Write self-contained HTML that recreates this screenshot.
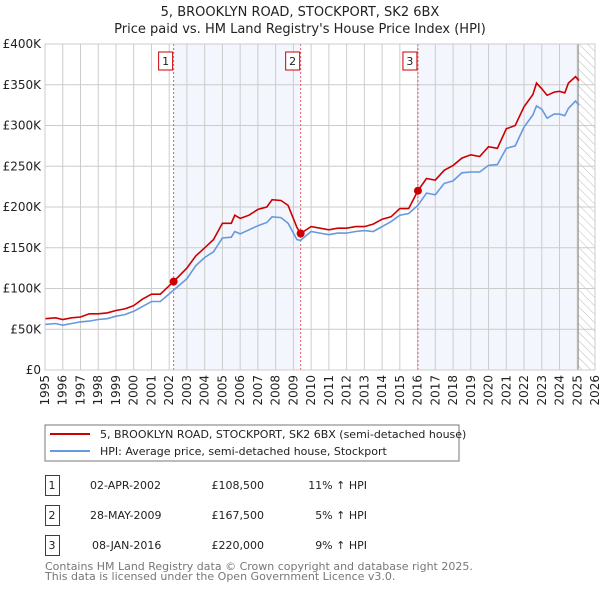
<!DOCTYPE html>
<html><head><meta charset="utf-8"><style>
body{margin:0;background:#fff;font-family:"DejaVu Sans","Liberation Sans",sans-serif;}
svg text{font-family:"DejaVu Sans","Liberation Sans",sans-serif;}
</style></head><body>
<svg id="c" width="600" height="590" xmlns="http://www.w3.org/2000/svg">
<defs><pattern id="hatch" width="6" height="6" patternUnits="userSpaceOnUse" patternTransform="rotate(-45)"><line x1="0" y1="0" x2="0" y2="6" stroke="#bbb" stroke-width="1"/></pattern></defs>
<text x="300" y="16" text-anchor="middle" font-size="13" fill="#222">5, BROOKLYN ROAD, STOCKPORT, SK2 6BX</text>
<text x="300" y="33" text-anchor="middle" font-size="13" fill="#222">Price paid vs. HM Land Registry's House Price Index (HPI)</text>
<g id="plot"></g>
<rect x="45" y="425" width="414" height="36" fill="#fff" stroke="#777"/>
<line x1="50" y1="434" x2="90" y2="434" stroke="#cc0000" stroke-width="2"/>
<text x="100" y="438" font-size="11" fill="#222">5, BROOKLYN ROAD, STOCKPORT, SK2 6BX (semi-detached house)</text>
<line x1="50" y1="451" x2="90" y2="451" stroke="#6699dd" stroke-width="2"/>
<text x="100" y="455" font-size="11" fill="#222">HPI: Average price, semi-detached house, Stockport</text>
<g font-size="11" fill="#222">
<rect x="45.5" y="475.5" width="14" height="20" fill="none" stroke="#c00"/><text x="52" y="489" text-anchor="middle">1</text>
<text x="90" y="489">02-APR-2002</text><text x="264" y="489" text-anchor="end">£108,500</text><text x="367" y="489" text-anchor="end">11% ↑ HPI</text>
<rect x="45.5" y="505.5" width="14" height="20" fill="none" stroke="#c00"/><text x="52" y="519" text-anchor="middle">2</text>
<text x="90" y="519">28-MAY-2009</text><text x="264" y="519" text-anchor="end">£167,500</text><text x="367" y="519" text-anchor="end">5% ↑ HPI</text>
<rect x="45.5" y="535.5" width="14" height="20" fill="none" stroke="#c00"/><text x="52" y="549" text-anchor="middle">3</text>
<text x="92" y="549">08-JAN-2016</text><text x="264" y="549" text-anchor="end">£220,000</text><text x="367" y="549" text-anchor="end">9% ↑ HPI</text>
</g>
<text x="45" y="570" font-size="11" fill="#777">Contains HM Land Registry data © Crown copyright and database right 2025.</text>
<text x="45" y="580" font-size="11" fill="#777">This data is licensed under the Open Government Licence v3.0.</text>
</svg>
<script>
const yTicks=[0,50,100,150,200,250,300,350,400];
const yTickLabels=["£0","£50K","£100K","£150K","£200K","£250K","£300K","£350K","£400K"];
const xYears=[1995,1996,1997,1998,1999,2000,2001,2002,2003,2004,2005,2006,2007,2008,2009,2010,2011,2012,2013,2014,2015,2016,2017,2018,2019,2020,2021,2022,2023,2024,2025,2026];
const priceT=[1995,1995.6,1996,1996.5,1997,1997.5,1998,1998.5,1999,1999.5,2000,2000.5,2001,2001.5,2002.25,2003,2003.5,2004,2004.5,2005,2005.5,2005.7,2006,2006.5,2007,2007.5,2007.8,2008.3,2008.7,2009.2,2009.4,2010,2010.5,2011,2011.5,2012,2012.5,2013,2013.5,2014,2014.5,2015,2015.5,2016.02,2016.5,2017,2017.5,2018,2018.5,2019,2019.5,2020,2020.5,2021,2021.5,2022,2022.5,2022.7,2023,2023.3,2023.7,2024,2024.3,2024.5,2024.9,2025.1];
const priceV=[63,64,62,64,65,69,69,70,73,75,79,87,93,93,108.5,125,140,150,160,180,180,190,186,190,197,200,209,208,202,175,167.5,176,174,172,174,174,176,176,179,185,188,198,198,220,235,233,245,251,260,264,262,274,272,296,300,323,338,352,345,337,341,342,340,352,360,355];
const hpiT=priceT;
const hpiV=[56,57,55,57,59,60,62,63,66,68,72,78,84,84,98,112,128,138,145,162,163,170,167,172,177,181,188,187,180,160,159,170,168,166,168,168,170,171,170,176,182,190,192,202,217,215,229,232,242,243,243,251,252,272,275,298,313,324,320,309,314,314,312,321,330,325];
const salesT=[2002.25,2009.41,2016.02];
const salesV=[108.5,167.5,220];
const salesLabels=["1","2","3"];
const X0=45,X1=595,Y0=370,Y1=44,YMIN=1995,YMAX=2026,HATCH=2025.05;
const xs=t=>X0+(t-YMIN)/(YMAX-YMIN)*(X1-X0);
const ys=v=>Y0-v/400*(Y0-Y1);
const NS="http://www.w3.org/2000/svg";
const g=document.getElementById('plot');
function mk(tag,attrs){const e=document.createElementNS(NS,tag);for(const k in attrs)e.setAttribute(k,attrs[k]);g.appendChild(e);return e;}
let e=mk('rect',{x:X0,y:Y1,width:X1-X0,height:Y0-Y1,fill:'#fff'});


e=mk('rect',{x:xs(salesT[0]),y:Y1,width:xs(salesT[1])-xs(salesT[0]),height:Y0-Y1,fill:'#f3f6fd'});


e=mk('rect',{x:xs(salesT[2]),y:Y1,width:xs(HATCH)-xs(salesT[2]),height:Y0-Y1,fill:'#f3f6fd'});


e=mk('rect',{x:xs(HATCH),y:Y1,width:X1-xs(HATCH),height:Y0-Y1,fill:'url(#hatch)'});


yTicks.forEach((v,i)=>{
  mk('line',{x1:X0,x2:X1,y1:ys(v),y2:ys(v),stroke:'#ccc','stroke-width':1});
  const t=mk('text',{x:X0-4,y:ys(v)+4,'text-anchor':'end','font-size':12,fill:'#222'});
  t.textContent=yTickLabels[i];
  
  
});
xYears.forEach(y=>{
  mk('line',{x1:xs(y),x2:xs(y),y1:Y1,y2:Y0,stroke:'#ccc','stroke-width':1});
  const t=mk('text',{x:0,y:0,'text-anchor':'end','font-size':12,fill:'#222',transform:`translate(${xs(y)+4},${Y0+5}) rotate(-90)`});
  t.textContent=y;
  
  
});
mk('line',{x1:xs(HATCH),x2:xs(HATCH),y1:Y1,y2:Y0,stroke:'#888','stroke-width':1});
salesT.forEach((t,i)=>{
  mk('line',{x1:xs(t),x2:xs(t),y1:Y1,y2:Y0,stroke:'#e06060','stroke-width':1,'stroke-dasharray':'2,2'});
  const r=mk('rect',{x:xs(t)-15,y:52,width:14,height:18,fill:'#fff',stroke:'#c00'});
  
  
  const tx=mk('text',{x:xs(t)-8,y:65,'text-anchor':'middle','font-size':11,fill:'#222'});
  tx.textContent=salesLabels[i];
});
function line(T,V,col,name){
  const d=T.map((t,i)=>(i?'L':'M')+xs(t).toFixed(1)+','+ys(V[i]).toFixed(1)).join('');
  const p=mk('path',{d:d,fill:'none',stroke:col,'stroke-width':1.6});
  
  
}
line(hpiT,hpiV,'#6699dd','hpi-line');
line(priceT,priceV,'#cc0000','price-line');
salesT.forEach((t,i)=>{
  const c=mk('circle',{cx:xs(t),cy:ys(salesV[i]),r:4,fill:'#cc0000'});
  
  
});
mk('rect',{x:X0,y:Y1,width:X1-X0,height:Y0-Y1,fill:'none',stroke:'#ccc'});
</script>
</body></html>
